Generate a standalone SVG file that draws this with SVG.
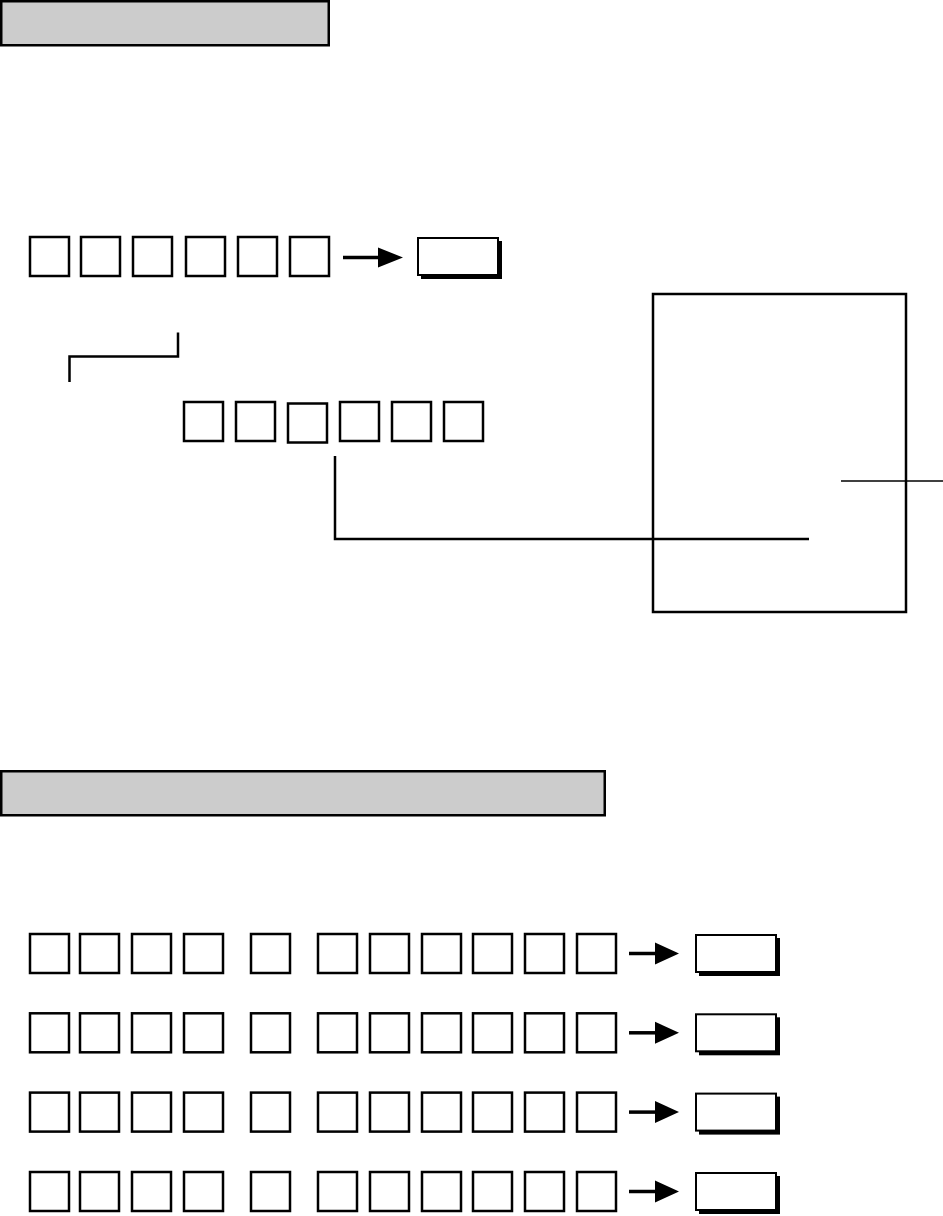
<svg xmlns="http://www.w3.org/2000/svg" width="943" height="1216" viewBox="0 0 943 1216">
<style>
.hdr{fill:#cccccc;stroke:#000;stroke-width:2.5}
.k{fill:#fff;stroke:#000;stroke-width:2.5}
.key{fill:#fff;stroke:#000;stroke-width:2}
.sh{fill:#000}
.ln{fill:none;stroke:#000;stroke-width:2.5}
.thin{fill:none;stroke:#000;stroke-width:1.5}
.ar{stroke:#000;stroke-width:3.5}
.ah{fill:#000}
</style>
<defs>
<g id="keycap"><rect class="sh" x="3" y="3" width="81" height="38"/><rect class="key" x="0" y="0" width="80" height="37"/></g>
<g id="arrow"><line class="ar" x1="0" y1="0" x2="28" y2="0"/><polygon class="ah" points="26,-11 50,0 26,11"/></g>
<g id="sq"><rect class="k" x="0" y="0" width="39" height="39"/></g>
</defs>
<g id="header1"><rect class="hdr" x="1.25" y="1.25" width="327.5" height="44"/></g>
<g id="header2"><rect class="hdr" x="1.25" y="771.25" width="603.5" height="44"/></g>
<g id="row1">
<use href="#sq" x="30" y="237"/><use href="#sq" x="81" y="237"/><use href="#sq" x="133" y="237"/><use href="#sq" x="186" y="237"/><use href="#sq" x="238" y="237"/><use href="#sq" x="290" y="237"/>
</g>
<g id="row1-key"><use href="#keycap" x="418" y="238"/></g>
<g id="row2">
<use href="#sq" x="184" y="402"/><use href="#sq" x="236" y="402"/><use href="#sq" x="288" y="403.5"/><use href="#sq" x="340" y="402"/><use href="#sq" x="392" y="402"/><use href="#sq" x="444" y="402"/>
</g>
<g id="panel"><rect class="ln" x="653" y="294" width="253" height="318"/></g>
<g id="bottom-rows">
<g id="brow1" transform="translate(0,934)">
<use href="#sq" x="30" y="0"/><use href="#sq" x="80" y="0"/><use href="#sq" x="132" y="0"/><use href="#sq" x="184" y="0"/><use href="#sq" x="251" y="0"/><use href="#sq" x="318" y="0"/><use href="#sq" x="370" y="0"/><use href="#sq" x="422" y="0"/><use href="#sq" x="473" y="0"/><use href="#sq" x="525" y="0"/><use href="#sq" x="577" y="0"/>
<use href="#keycap" x="696" y="1"/>
</g>
<g id="brow2" transform="translate(0,1013.3)">
<use href="#sq" x="30" y="0"/><use href="#sq" x="80" y="0"/><use href="#sq" x="132" y="0"/><use href="#sq" x="184" y="0"/><use href="#sq" x="251" y="0"/><use href="#sq" x="318" y="0"/><use href="#sq" x="370" y="0"/><use href="#sq" x="422" y="0"/><use href="#sq" x="473" y="0"/><use href="#sq" x="525" y="0"/><use href="#sq" x="577" y="0"/>
<use href="#keycap" x="696" y="1"/>
</g>
<g id="brow3" transform="translate(0,1092.6)">
<use href="#sq" x="30" y="0"/><use href="#sq" x="80" y="0"/><use href="#sq" x="132" y="0"/><use href="#sq" x="184" y="0"/><use href="#sq" x="251" y="0"/><use href="#sq" x="318" y="0"/><use href="#sq" x="370" y="0"/><use href="#sq" x="422" y="0"/><use href="#sq" x="473" y="0"/><use href="#sq" x="525" y="0"/><use href="#sq" x="577" y="0"/>
<use href="#keycap" x="696" y="1"/>
</g>
<g id="brow4" transform="translate(0,1172)">
<use href="#sq" x="30" y="0"/><use href="#sq" x="80" y="0"/><use href="#sq" x="132" y="0"/><use href="#sq" x="184" y="0"/><use href="#sq" x="251" y="0"/><use href="#sq" x="318" y="0"/><use href="#sq" x="370" y="0"/><use href="#sq" x="422" y="0"/><use href="#sq" x="473" y="0"/><use href="#sq" x="525" y="0"/><use href="#sq" x="577" y="0"/>
<use href="#keycap" x="696" y="1"/>
</g>
</g>
<g id="connectors">
<line class="ar" x1="343" y1="257.5" x2="380" y2="257.5"/>
<polygon class="ah" points="378,247.5 403,257.5 378,267.5"/>
<polyline class="ln" points="178,332.5 178,356.5 69.5,356.5 69.5,382"/>
<polyline class="ln" points="335,456 335,539 809,539"/>
<line class="thin" x1="841" y1="481" x2="943" y2="481"/>
<use href="#arrow" x="629" y="953.5"/>
<use href="#arrow" x="629" y="1032.8"/>
<use href="#arrow" x="629" y="1112.1"/>
<use href="#arrow" x="629" y="1191.5"/>
</g>
</svg>
